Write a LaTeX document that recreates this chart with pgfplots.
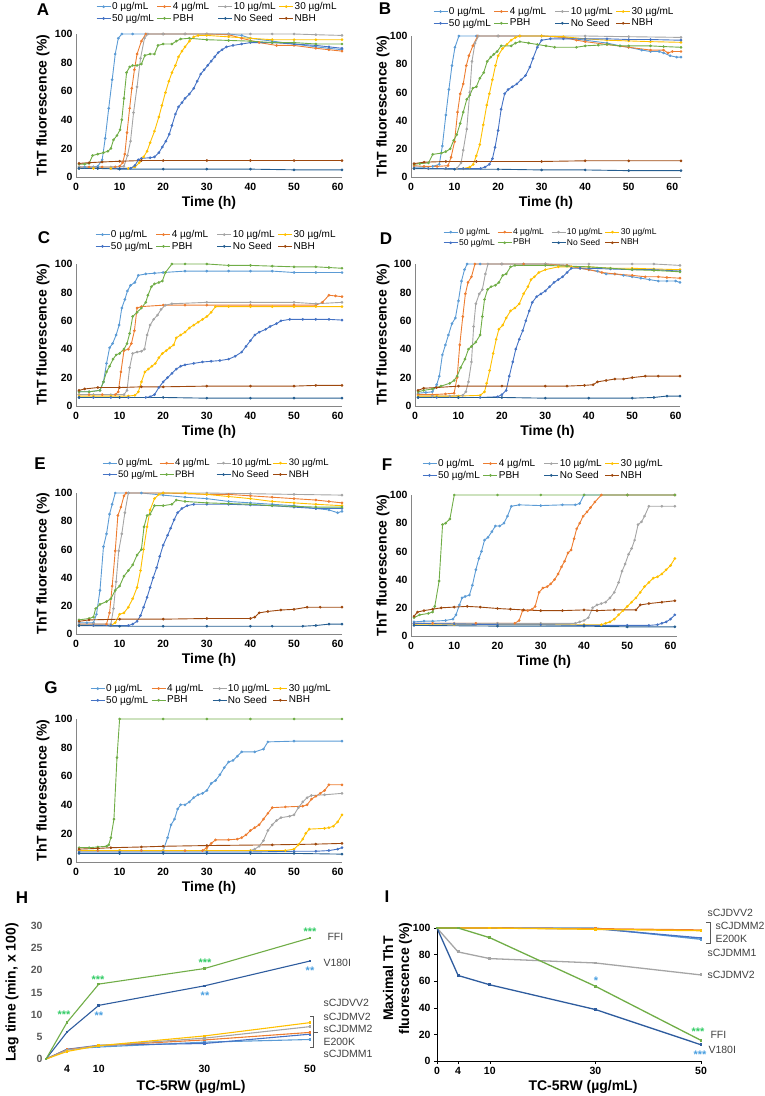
\documentclass[border=0pt]{standalone}
\usepackage{fontspec}
\setmainfont{Liberation Sans}
\usepackage{pgfplots}
\pgfplotsset{compat=1.18}
\definecolor{c0}{HTML}{5B9BD5}
\definecolor{c4}{HTML}{ED7D31}
\definecolor{c10}{HTML}{A5A5A5}
\definecolor{c30}{HTML}{FFC000}
\definecolor{c50}{HTML}{4472C4}
\definecolor{cPBH}{HTML}{70AD47}
\definecolor{cNS}{HTML}{255E91}
\definecolor{cNBH}{HTML}{9E480E}
\definecolor{cV}{HTML}{2E5C9E}
\definecolor{axgray}{HTML}{868686}
\definecolor{tgray}{HTML}{595959}
\definecolor{lgray}{HTML}{404040}
\definecolor{astg}{HTML}{33CC66}
\definecolor{astb}{HTML}{4A9FE0}
\newlength\lbw
\setlength\lbw{42pt}
\newcommand\lb[1]{\makebox[\lbw][l]{#1}}
\newcommand\kinleg{\legend{\lb{0 µg/mL},\lb{4 µg/mL},\lb{10 µg/mL},\lb{30 µg/mL},\lb{50 µg/mL},\lb{PBH},\lb{No Seed},\lb{NBH}}}
\pgfplotsset{
  k0/.style={color=c0}, k4/.style={color=c4}, k10/.style={color=c10}, k30/.style={color=c30},
  k50/.style={color=c50}, kP/.style={color=cPBH}, kS/.style={color=cNS}, kN/.style={color=cNBH},
  kin/.style={anchor=south west, scale only axis, xmin=0, ymin=0, ymax=100, enlargelimits=false, clip=false,
    axis lines=left, axis line style={draw=axgray, line width=0.8pt, -},
    xtick={0,10,...,60}, ytick={0,20,...,100}, major tick length=0pt,
    tick label style={font=\bfseries\fontsize{10.5}{12}\selectfont, black},
    /pgf/number format/assume math mode=true,
    xticklabel style={yshift=-3pt},
    xlabel={Time (h)}, ylabel={ThT fluorescence (\%)},
    label style={font=\bfseries\fontsize{14}{16}\selectfont},
    xlabel style={at={(axis description cs:0.5,0)}, anchor=center, yshift=-26pt},
    every axis plot/.append style={line width=0.9pt, mark=*, mark size=0.85pt},
    legend columns=4, legend cell align=left,
    legend image code/.code={\draw[mark repeat=2,mark phase=2,##1] plot coordinates {(0pt,0pt)(7pt,0pt)(14pt,0pt)};},
    legend style={draw=none, fill=none, anchor=north west, inner sep=0pt, font=\fontsize{10}{11}\selectfont, row sep=1pt, nodes={inner sep=1pt}, /tikz/every even column/.append style={column sep=2pt}},
  },
  lag/.style={anchor=south west, scale only axis, width=264pt, height=133pt, xmin=0, xmax=50, enlargelimits=false, clip=false,
    tick label style={font=\bfseries\fontsize{10.5}{12}\selectfont},
    /pgf/number format/assume math mode=true,
    label style={font=\bfseries\fontsize{14}{16}\selectfont},
    xlabel={TC-5RW (µg/mL)},
    every axis plot/.append style={line width=1.1pt, mark=square*, mark size=0.8pt},
  },
}
\begin{document}
\begin{tikzpicture}[x=1pt,y=1pt]
\useasboundingbox (0,0) rectangle (764,1096);
\begin{scope}[font=\bfseries\fontsize{17}{17}\selectfont]
\node at (43,1086) {A};
\node at (385,1087) {B};
\node at (44,858) {C};
\node at (386,857) {D};
\node at (40,632) {E};
\node at (387,631) {F};
\node at (51,408) {G};
\node at (22,198) {H};
\node at (387,199) {I};
\end{scope}

% ---------------- A
\begin{axis}[kin, at={(76pt,919pt)}, width=266pt, height=143pt, xmax=61,
  ylabel style={at={(axis description cs:-0.124,0.5)}, anchor=center},
  legend style={at={(0.075,1.23)}}]
\addplot[k0] coordinates {(0.7,7)(2,7)(4,7)(5,7.5)(6,12)(6.7,27)(7.5,48)(8.3,68)(9,86)(9.7,97)(10.5,100)(13,100)(16,100)(20,100)(25,100)(30,100)(35,100)(38,99)(40,97)(45,95)(50,93)(55,91)(58,90)(61,89)};
\addplot[k4] coordinates {(0.7,7)(3,7)(6,7)(9,7)(10,7.5)(10.7,10)(11.2,16)(11.7,31)(12.3,48)(12.8,62)(13.4,75)(14,86)(15,95)(16,100)(20,100)(25,100)(30,100)(35,99.5)(38,97)(42,94)(46,92)(50,92)(55,90)(58,89)(61,88)};
\addplot[k10] coordinates {(0.7,7)(4,7)(8,7)(11,7.5)(11.8,15)(12.5,25)(13.2,45)(14,63)(14.8,83)(15.7,97)(16.5,100)(20,100)(25,100)(30,100)(35,100)(40,100)(45,100)(50,100)(55,99.5)(61,99)};
\addplot[k30] coordinates {(0.7,6)(4,6)(8,6)(12,6)(13.5,7)(14.5,10)(15.5,14)(16.3,18)(17,24)(18,32)(19,42)(19.7,50)(20.5,59)(21.3,67)(22,73)(22.8,78)(23.5,84)(24.3,88)(25,91)(26,95)(27,98)(28,99)(30,99)(35,98)(40,97)(45,96)(50,96)(55,96)(61,96)};
\addplot[k50] coordinates {(0.7,6)(5,6)(10,6)(12.5,6)(13.5,8)(14.3,12)(15,13)(17,13.5)(18,14)(19,17)(19.8,21)(20.6,25)(21.4,30)(22,36)(22.8,44)(23.5,49)(24.3,52)(25,55)(26,58)(27,62)(27.8,67)(28.6,72)(29.4,75)(30.2,78)(31,81)(31.8,84)(32.6,87)(33.5,89)(34.5,91)(36,92)(38,93)(40,94)(45,94)(50,93)(55,92)(58,91)(61,90)};
\addplot[kP] coordinates {(0.7,9)(2,9)(3,9.5)(3.8,15)(5,16)(6.3,17)(7.3,18)(8,20)(8.6,26)(9.4,29)(10.1,33)(10.5,40)(11,55)(11.6,73)(12.3,77)(13,78)(14,78)(15,79)(15.8,85)(17,86)(18,86)(18.8,92)(20,93)(22,93)(23,95)(24,96.5)(26,97)(30,96)(35,95.5)(40,95)(45,94)(50,94)(55,93)(61,93)};
\addplot[kS] coordinates {(0.7,6)(5,6)(10,5.5)(20,5.5)(30,5.5)(40,5.5)(50,5)(61,5)};
\addplot[kN] coordinates {(0.7,9.5)(3,10)(6,10.5)(10,11)(15,11.5)(20,11.5)(30,11.5)(40,11.5)(50,11.5)(61,11.5)};
\kinleg
\end{axis}

% ---------------- B
\begin{axis}[kin, at={(411pt,919pt)}, width=270pt, height=141pt, xmax=62,
  ylabel style={at={(axis description cs:-0.104,0.5)}, anchor=center},
  legend style={at={(0.081,1.213)}}]
\addplot[k0] coordinates {(0.7,7)(3,7)(5,7.5)(6.5,9)(7.2,22)(8,44)(8.7,62)(9.4,79)(10.1,92)(11,100)(15,100)(20,100)(25,100)(30,100)(35,99)(40,97)(45,95)(48,93)(50,92)(53,90)(55,89)(57,89)(58,88)(59.5,86)(61,85)(62,85)};
\addplot[k4] coordinates {(0.7,8)(3,7.5)(6,7.5)(8.5,8)(9.2,14)(10,25)(10.7,46)(11.3,59)(12,66)(12.7,79)(13.3,86)(14.2,93)(15.3,100)(20,100)(25,100)(30,100)(35,99)(38,97)(40,96)(45,94)(50,92)(55,90)(58,90)(59,88)(60,89)(62,89)};
\addplot[k10] coordinates {(0.7,6)(4,6)(8,6)(10.5,6)(11.5,10)(12,19)(12.8,34)(13.5,60)(14,82)(14.7,95)(15.5,100)(20,100)(30,100)(40,100)(50,99.5)(62,99)};
\addplot[k30] coordinates {(0.7,6)(4,6)(8,6)(12,6)(13.5,7)(14.3,9)(15,15)(15.8,23)(16.6,37)(17.4,51)(18,59)(18.7,69)(19.4,79)(20,86)(21,91)(22,94)(23,97)(24,99)(25,100)(30,100)(35,99.5)(40,98)(45,97)(50,96.5)(55,96)(62,95.5)};
\addplot[k50] coordinates {(0.7,6)(4,6)(8,6)(12,6)(16,6)(17,7)(18,9)(18.7,13)(19.3,21)(20,33)(20.7,48)(21.5,59)(22.3,62)(23.3,64)(24.3,66)(25.3,69)(26.3,72)(27.3,78)(28,84)(29,92)(30,97)(32,98)(35,98)(40,98)(45,98)(50,97.5)(55,97.5)(62,97)};
\addplot[kP] coordinates {(0.7,9)(2,9.5)(4,10)(5,16)(7,17)(8,18)(9,20)(9.8,26)(10.5,30)(11.3,38)(12,46)(12.8,55)(13.5,58)(14.2,63)(15,64)(15.8,70)(16.7,74)(17.5,82)(18.3,85)(19,87)(19.8,89)(20.7,93)(23,93)(24,95)(25,96)(27,95)(29,94)(31,93)(33,92)(38,92)(40,93)(43,93.5)(45,94)(48,93)(50,93)(55,93)(58,92.5)(62,92)};
\addplot[kS] coordinates {(0.7,6)(10,5.5)(20,5.5)(30,5)(40,5)(50,4.5)(62,4.5)};
\addplot[kN] coordinates {(0.7,9.5)(3,10.5)(8,11)(15,11)(30,11)(40,11.5)(50,11.5)(62,11.5)};
\kinleg
\end{axis}

% ---------------- C
\begin{axis}[kin, at={(76pt,690pt)}, width=266pt, height=142pt, xmax=61,
  ylabel style={at={(axis description cs:-0.124,0.5)}, anchor=center},
  legend style={at={(0.071,1.246)}}]
\addplot[k0] coordinates {(0.7,10)(3,10)(5.5,11)(6.3,17)(7,30)(7.7,41)(8.4,44)(9.2,50)(9.9,57)(10.5,69)(11.2,75)(11.8,81)(12.5,85)(13.5,87)(14.3,92)(16,93)(18,93.5)(20,94)(25,95)(30,95)(35,95)(40,95)(45,95)(50,94)(55,94)(61,94)};
\addplot[k4] coordinates {(0.7,8)(3,8)(6,8)(9,8)(9.7,10)(10.3,24)(11,39)(12,40)(12.7,44)(13.4,53)(14,69)(15,70)(20,71)(25,71)(30,71)(40,71)(50,71)(55,71)(56.5,73)(58,78)(59.5,77.5)(61,77)};
\addplot[k10] coordinates {(0.7,8)(4,8)(8,8)(11,8)(11.7,11)(12.3,27)(13,37)(14,38)(15,38.5)(15.7,40)(16.3,50)(17,57)(17.8,61)(18.7,64)(19.5,68)(20.5,71)(22,72)(30,73)(40,73)(50,73)(55,72)(61,73)};
\addplot[k30] coordinates {(0.7,7)(4,7)(8,7)(12,7)(13.5,7.5)(14.3,10)(15,17)(15.8,24)(16.6,26)(17.4,28)(18.2,30)(19,34)(19.8,37)(20.7,39)(21.5,41)(22.4,43)(23,48)(24,50)(25,52)(26,55)(27,57)(28,59)(29,61)(30,63)(31,66)(32,70)(35,70)(40,70)(45,70)(50,70)(55,70)(61,70)};
\addplot[k50] coordinates {(0.7,6)(4,6)(8,6)(12,6)(16,6)(17,6.5)(18,8)(19,13)(20,17)(21,20)(22,23)(23,26)(24,28)(25,29)(27,30)(29,31)(31,31.5)(33,32)(35,33)(36.5,35)(38,38)(39,42)(40,46)(41,50)(42,52)(43.5,54)(44.5,56)(46,58)(47,60)(49,61)(52,61)(55,61)(58,61)(61,60.5)};
\addplot[kP] coordinates {(0.7,10)(3,10)(5.5,11)(6.3,17)(7,24)(7.7,28)(8.5,33)(9.2,36)(10,37)(11,40)(11.7,44)(12.3,51)(13,63)(14,66)(15,69)(16,73)(16.5,78)(17.3,84)(18,86)(19,87)(19.8,88)(20.5,94)(22,100)(25,100)(30,100)(35,99)(40,99)(45,98.5)(50,98)(55,98)(58,97.5)(61,97)};
\addplot[kS] coordinates {(0.7,6)(10,6)(20,6)(30,5.5)(40,5.5)(50,5.5)(61,5.5)};
\addplot[kN] coordinates {(0.7,11)(2,12)(5,13)(10,13)(15,13.5)(20,13.5)(30,14)(40,14)(50,14)(55,14.5)(61,14.5)};
\kinleg
\end{axis}

% ---------------- D
\setlength\lbw{35pt}
\begin{axis}[kin, at={(415pt,690pt)}, width=265pt, height=142pt, xmax=61,
  ylabel style={at={(axis description cs:-0.121,0.5)}, anchor=center},
  legend style={at={(0.106,1.26)}, font=\fontsize{8.5}{10}\selectfont}]
\addplot[k0] coordinates {(0.7,9)(2.5,9.5)(4,10)(5,15)(5.6,21)(6.3,36)(7,43)(7.7,50)(8.5,58)(9.3,62)(10,74)(10.7,88)(11.4,96)(12,100)(15,100)(20,100)(25,100)(30,100)(35,99)(38,97)(40,96)(42,95)(44,93)(46,93)(48,92)(50,91)(52,90)(54,89)(56,88)(58,88)(60,88)(61,87)};
\addplot[k4] coordinates {(0.7,8)(4,8)(7,8.5)(9,9)(9.7,20)(10.3,43)(11,63)(11.6,79)(12.2,87)(13,91)(13.8,100)(20,100)(25,100)(30,100)(35,99)(38,97)(40,96)(43,94)(46,93)(50,92)(53,91)(56,91)(58,90.5)(61,90)};
\addplot[k10] coordinates {(0.7,7)(4,7)(8,7)(11,7.5)(11.7,10)(12.3,17)(13,31)(13.5,56)(14,72)(14.8,79)(15.5,82)(16.2,93)(16.8,100)(20,100)(30,100)(40,100)(50,100)(55,100)(61,99)};
\addplot[k30] coordinates {(0.7,7)(5,7)(10,7)(15,7.5)(16,10)(16.5,16)(17.2,25)(18,37)(18.7,47)(19.3,54)(20.2,57)(21,62)(22,67)(23,69)(24,72)(25,79)(26,84)(26.7,89)(27.5,91)(28.5,94)(30,96)(33,98)(36,98)(40,98)(45,97)(50,97)(55,96.5)(61,96)};
\addplot[k50] coordinates {(0.7,6)(5,6)(10,6)(15,6)(19,6.5)(20,8)(21,11)(21.7,21)(22.5,31)(23.2,40)(24,47)(24.8,53)(25.5,60)(26.3,67)(27,73)(28,77)(29,79)(30,81)(31,84)(32,87)(33,89)(34,91)(35,94)(36,97)(38,97)(40,97)(45,96.5)(50,96)(55,96)(61,95)};
\addplot[kP] coordinates {(0.7,10)(2,11)(4,12)(6,14)(8,16)(9,18)(9.7,21)(10.5,27)(11.5,33)(12.3,40)(13,42)(14,45)(15,50)(15.5,63)(16,75)(16.7,82)(17.5,84)(18.5,85)(19.3,87)(20.2,92)(21,93)(22,98)(23,99)(30,99)(35,98.5)(40,98)(45,97)(50,96)(55,95.5)(61,94.5)};
\addplot[kS] coordinates {(0.7,6)(10,6)(20,6)(30,5.5)(40,5.5)(50,5.5)(55,6)(58,7)(61,7)};
\addplot[kN] coordinates {(0.7,11)(2,12.5)(5,13)(10,14)(20,14)(30,14)(35,14)(39,14.5)(41,15)(42,17)(44,18)(46,19)(48,19)(50,20)(53,21)(56,21)(61,21)};
\kinleg
\end{axis}

% ---------------- E
\setlength\lbw{38pt}
\begin{axis}[kin, at={(76pt,462pt)}, width=266pt, height=141pt, xmax=61,
  ylabel style={at={(axis description cs:-0.124,0.5)}, anchor=center},
  legend style={at={(0.098,1.25)}, font=\fontsize{9.5}{11}\selectfont}]
\addplot[k0] coordinates {(0.7,8)(2.5,8)(4,8)(4.7,14)(5.5,31)(6.3,62)(7,71)(7.7,85)(8.3,92)(9,100)(12,100)(15,100)(20,98.5)(25,97)(30,96)(35,94)(40,93)(45,92)(50,91)(55,89)(58,88)(60,86)(61,87)};
\addplot[k4] coordinates {(0.7,7)(4,7)(7,7)(7.7,15)(8.3,34)(9,59)(9.6,84)(10.3,90)(11,98)(11.5,100)(20,100)(30,99)(35,99)(40,98)(45,97)(50,96)(55,95)(58,94)(61,93)};
\addplot[k10] coordinates {(0.7,7)(4,7)(8,7)(8.6,18)(9.2,37)(9.8,59)(10.5,71)(11.2,86)(12,100)(20,100)(30,100)(40,99.5)(50,99)(61,98.5)};
\addplot[k30] coordinates {(0.7,6)(4,6)(8,6)(9,8)(10,14)(11,15)(12,19)(13,25)(14,33)(14.8,45)(15.5,60)(16.3,76)(17,88)(18,96)(19,99)(20,100)(25,100)(30,99)(35,97.5)(40,96)(45,94)(50,93)(55,92)(61,91)};
\addplot[k50] coordinates {(0.7,6)(4,6)(8,6)(12,6)(13,7)(14,9)(14.8,13)(15.5,19)(16.3,26)(17,33)(17.7,40)(18.5,47)(19.2,55)(20,63)(21,70)(21.7,75)(22.5,81)(23.3,86)(24.3,89)(25.5,91)(27,92)(30,92)(35,92)(40,91.5)(45,91)(50,90)(55,89)(61,89)};
\addplot[kP] coordinates {(0.7,10)(3,11)(4,12)(4.5,18)(5.5,21)(7,23)(8,25)(9,31)(10,34)(11,41)(12,45)(13,49)(14,56)(15,60)(15.6,76)(16.3,84)(17,85)(18,91)(20,91)(22,92)(23,95)(25,94)(30,93)(35,92.5)(40,92)(45,91)(50,90.5)(55,90)(61,90)};
\addplot[kS] coordinates {(0.7,6)(10,5.5)(20,5.5)(30,5.5)(40,5.5)(45,5.5)(52,5.5)(55,6)(58,7)(61,7)};
\addplot[kN] coordinates {(0.7,9)(3,10)(10,10.5)(20,10.5)(30,11)(40,11)(41,12)(42,15)(44,16)(47,17)(50,17.5)(53,19)(56,19)(61,19)};
\kinleg
\end{axis}

% ---------------- F
\setlength\lbw{42pt}
\begin{axis}[kin, at={(411pt,460pt)}, width=266pt, height=141pt, xmax=61.5,
  ylabel style={at={(axis description cs:-0.105,0.5)}, anchor=center},
  legend style={at={(0.041,1.262)}}]
\addplot[k0] coordinates {(0.7,10)(3,10.5)(5,10.5)(8,11)(9.7,12)(10.4,15)(11.2,22)(11.8,27)(12.5,28)(13.5,29)(14.2,36)(15,47)(15.7,55)(16.3,60)(17,68)(17.8,70)(18.7,74)(19.5,78)(20.5,78)(21.5,80)(22.3,85)(23.2,92)(25,93)(30,92.5)(35,93)(38,93)(39,94)(40,100)(50,100)(61,100)};
\addplot[k4] coordinates {(0.7,9)(5,9)(10,9)(15,9)(20,9)(24,9)(25,11)(25.8,18)(27,18)(28,19)(28.7,21)(29.6,31)(30.5,34)(31.5,35)(32.3,37)(33.2,40)(34,44)(34.8,49)(35.5,53)(36.3,59)(37,61)(37.7,69)(38.3,76)(39,80)(39.8,85)(40.7,88)(41.5,91)(42.5,95)(44,100)(50,100)(61,100)};
\addplot[k10] coordinates {(0.7,9)(10,9)(20,9)(30,9)(38,9)(39,10)(40,11)(41,13)(42,20)(43,22)(44,23)(45,24)(46,27)(47,31)(48,38)(48.8,46)(49.5,51)(50.3,58)(51,62)(51.7,68)(52.5,79)(53.3,81)(54,85)(55,92)(58,92)(61,92)};
\addplot[k30] coordinates {(0.7,8)(10,8)(20,8)(30,8)(40,8)(44,8)(45,9)(46,10)(47,12)(48,15)(49,18)(50,21)(51,24)(52,27)(53,31)(54,35)(55,38)(56,41)(57,42)(58,44)(59,47)(60,50)(61,55)};
\addplot[k50] coordinates {(0.7,9)(10,8.5)(20,8)(30,8)(40,7.5)(50,7.5)(55,7.5)(57,8)(58,9)(59,10)(60,12)(61,15)};
\addplot[kP] coordinates {(0.7,13)(2,15)(4,16)(5,17)(5.5,21)(6.5,39)(7.3,79)(8,80)(9,83)(10,100)(20,100)(30,100)(40,100)(50,100)(61,100)};
\addplot[kS] coordinates {(0.7,7.5)(20,7)(40,7)(50,6.5)(61,6.5)};
\addplot[kN] coordinates {(0.7,14)(1.5,17)(3,18)(5,19)(7,20)(10,20.5)(13,21)(16,20.5)(20,19.5)(23,19)(26,18.5)(30,18)(35,18)(40,18.5)(43,18)(47,18.5)(52,18.5)(53,22)(55,23)(58,24)(61,25)};
\kinleg
\end{axis}

% ---------------- G
\begin{axis}[kin, at={(76pt,234pt)}, width=266pt, height=143pt, xmax=61,
  ylabel style={at={(axis description cs:-0.124,0.5)}, anchor=center},
  legend style={at={(0.053,1.252)}}]
\addplot[k0] coordinates {(0.7,8)(5,8)(10,8)(15,8)(20,8)(21,17)(21.8,26)(22.6,30)(23.3,37)(24,40)(25,40)(26,42)(27,45)(28,47)(29,48)(30,50)(31,55)(32,57)(33,61)(34,66)(35,70)(36,71)(37,74)(38,77)(41,77)(43,79)(44,84)(50,84.5)(61,84.5)};
\addplot[k4] coordinates {(0.7,8)(5,8)(10,8)(15,8)(20,8)(25,8)(29,8)(30,10)(31,13)(32,15.5)(35,15.5)(37,16)(38,17)(39,19)(40,22)(41,24)(42,26)(43,30)(44,34)(45,38)(48,38.5)(52,39)(53,40)(54,44)(55,46)(56,48)(57,50)(58,54)(61,54)};
\addplot[k10] coordinates {(0.7,8)(10,8)(20,8)(30,8)(40,8)(41,9)(42,11)(43,15)(44,22)(45,26)(46,29)(47,31)(49,32)(50,33)(51,38)(52,42)(53,45)(54,46.5)(57,47)(61,48)};
\addplot[k30] coordinates {(0.7,8)(10,8)(20,8)(30,8)(40,8)(48,8)(50,9)(51,12)(52,16)(52.7,20)(53.5,23)(57,23.5)(58,24)(59,25)(60,28)(61,33)};
\addplot[k50] coordinates {(0.7,7)(10,7)(20,7)(30,7)(40,7)(50,7.5)(55,7.5)(58,8)(60,9)(61,10)};
\addplot[kP] coordinates {(0.7,10)(3,10)(5,10.5)(7,11)(7.5,12)(8,17)(8.7,30)(9.4,73)(10,100)(20,100)(30,100)(40,100)(50,100)(61,100)};
\addplot[kS] coordinates {(0.7,6)(10,6)(20,6)(30,6)(40,6)(50,6)(61,5.5)};
\addplot[kN] coordinates {(0.7,9)(5,9.5)(8,10)(15,10.5)(20,11)(30,11.5)(45,12)(55,12.5)(61,13)};
\kinleg
\end{axis}

% ---------------- H
\begin{axis}[lag, at={(46pt,37pt)}, ymin=0, ymax=30,
  axis lines=left, axis line style={draw=none}, major tick length=0pt,
  xtick={4,10,30,50}, ytick={0,5,...,30},
  yticklabel style={text=tgray}, xticklabel style={yshift=-3pt},
  ylabel={Lag time (min, x 100)},
  xlabel style={at={(axis description cs:0.55,0)}, anchor=center, yshift=-28pt},
  ylabel style={at={(axis description cs:-0.129,0.5)}, anchor=center}]
\addplot[color=c0] coordinates {(0,0)(4,2.2)(10,2.7)(30,3.8)(50,4.4)};
\addplot[color=c50] coordinates {(0,0)(4,2.2)(10,3.1)(30,3.5)(50,5.6)};
\addplot[color=c4] coordinates {(0,0)(4,2.1)(10,3.0)(30,4.3)(50,6.0)};
\addplot[color=c10] coordinates {(0,0)(4,2.0)(10,3.0)(30,4.7)(50,7.3)};
\addplot[color=c30] coordinates {(0,0)(4,1.7)(10,3.0)(30,5.2)(50,8.2)};
\addplot[color=cV] coordinates {(0,0)(4,6.1)(10,12.1)(30,16.5)(50,22.1)};
\addplot[color=cPBH] coordinates {(0,0)(4,8.3)(10,16.9)(30,20.4)(50,27.3)};
\end{axis}
\begin{scope}[font=\fontsize{10.5}{12}\selectfont, text=lgray]
\node[anchor=west] at (324,159) {FFI};
\node[anchor=west] at (320,133) {V180I};
\node[anchor=west] at (320,93) {sCJDVV2};
\node[anchor=west] at (320,79) {sCJDMV2};
\node[anchor=west] at (320,67) {sCJDMM2};
\node[anchor=west] at (320,54) {E200K};
\node[anchor=west] at (320,42) {sCJDMM1};
\end{scope}
\draw[tgray, line width=0.6pt] (310,80)--(313,80)--(313,49)--(310,49) (313,64)--(318,64);
\begin{scope}[font=\bfseries\fontsize{11}{12}\selectfont]
\node[anchor=base, text=astg] at (64,77.5) {***};
\node[anchor=base, text=astg] at (98,112.5) {***};
\node[anchor=base, text=astg] at (205,129.5) {***};
\node[anchor=base, text=astg] at (310,160.5) {***};
\node[anchor=base, text=astb] at (99,76.5) {**};
\node[anchor=base, text=astb] at (205,96.5) {**};
\node[anchor=base, text=astb] at (310,121.5) {**};
\end{scope}

% ---------------- I
\begin{axis}[lag, at={(437pt,35pt)}, ymin=0, ymax=100,
  axis lines=left, axis line style={draw=black, line width=0.8pt, -},
  tick align=outside, major tick length=3pt, tick style={black, line width=0.6pt},
  xtick={0,4,10,30,50}, ytick={0,20,...,100},
  ylabel={Maximal ThT\\fluorescence (\%)},
  xlabel style={at={(axis description cs:0.553,0)}, anchor=center, yshift=-26pt},
  ylabel style={at={(axis description cs:-0.15,0.62)}, anchor=center, align=center},
  every axis plot/.append style={line width=1.3pt}]
\addplot[color=c0] coordinates {(0,100)(4,100)(10,100)(30,100)(50,91.5)};
\addplot[color=c50] coordinates {(0,100)(4,100)(10,100)(30,99.5)(50,92.5)};
\addplot[color=c4] coordinates {(0,100)(4,100)(10,100)(30,99.5)(50,98.5)};
\addplot[color=c30] coordinates {(0,100)(4,100)(10,100)(30,99)(50,98)};
\addplot[color=c10] coordinates {(0,100)(4,82)(10,77)(30,73.7)(50,64.7)};
\addplot[color=cV] coordinates {(0,100)(4,64.3)(10,57.3)(30,38.7)(50,12.2)};
\addplot[color=cPBH] coordinates {(0,100)(4,100)(10,92.7)(30,56.2)(50,15.5)};
\end{axis}
\begin{scope}[font=\fontsize{10.5}{12}\selectfont, text=lgray]
\node[anchor=west] at (704,183) {sCJDVV2};
\node[anchor=west] at (712,170) {sCJDMM2};
\node[anchor=west] at (712,157) {E200K};
\node[anchor=west] at (704,143) {sCJDMM1};
\node[anchor=west] at (704,121) {sCJDMV2};
\node[anchor=west] at (707,61) {FFI};
\node[anchor=west] at (705,46) {V180I};
\end{scope}
\draw[tgray, line width=0.6pt] (706,174)--(710,174)--(710,153)--(706,153);
\begin{scope}[font=\bfseries\fontsize{11}{12}\selectfont]
\node[anchor=base, text=astb] at (596,111.5) {*};
\node[anchor=base, text=astg] at (698,60.5) {***};
\node[anchor=base, text=astb] at (700,37.5) {***};
\end{scope}
\end{tikzpicture}
\end{document}
